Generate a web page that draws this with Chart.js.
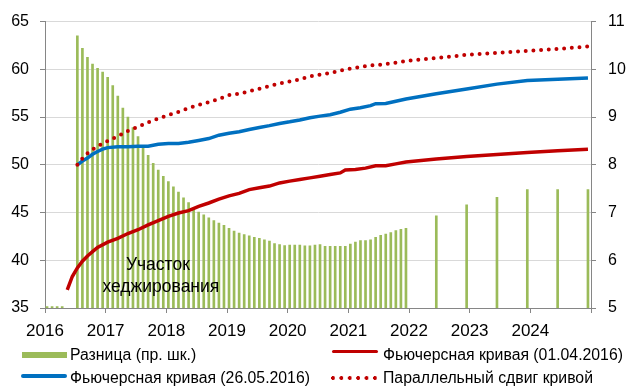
<!DOCTYPE html>
<html lang="ru">
<head>
<meta charset="utf-8">
<title>Фьючерсная кривая</title>
<script src="https://cdn.jsdelivr.net/npm/chart.js@4.4.1/dist/chart.umd.min.js"></script>
<style>
  html, body { margin: 0; padding: 0; background: #fff; }
  #wrap { position: relative; width: 629px; height: 387px; font-family: 'Liberation Sans', Arial, sans-serif; }
  #chart { position: absolute; left: 0; top: 0; }
  .lg { position: absolute; font-size: 15.8px; line-height: 18px; color: #000; white-space: nowrap; }
  .sw { position: absolute; }
</style>
</head>
<body>
<div id="wrap">
  <canvas id="chart" width="629" height="387"></canvas>

  <!-- легенда -->
  <div class="sw" style="left:22px;top:352px;width:45px;height:6px;background:#9bbb59"></div>
  <div class="lg" style="left:70px;top:346px">Разница (пр. шк.)</div>
  <div class="sw" style="left:332px;top:349.5px;width:46px;height:3.5px;background:#c00000;border-radius:2px"></div>
  <div class="lg" style="left:383px;top:346px">Фьючерсная кривая (01.04.2016)</div>
  <div class="sw" style="left:21px;top:374px;width:46px;height:3.5px;background:#0070c0;border-radius:2px"></div>
  <div class="lg" style="left:70px;top:369px">Фьючерсная кривая (26.05.2016)</div>
  <div class="sw" style="left:331px;top:375.7px;width:46px;height:4px;background:radial-gradient(circle at 2px 2px, #c00000 1.7px, transparent 2.2px);background-size:8.4px 4px;background-repeat:repeat-x"></div>
  <div class="lg" style="left:383px;top:369px">Параллельный сдвиг кривой</div>
</div>

<script>
// разница между кривыми, правая шкала
const diffMonths = ['2016-01', '2016-02', '2016-03', '2016-04']
  .concat(monthRange('2016-07', '2021-12'))
  .concat(['2022-06', '2022-12', '2023-06', '2023-12', '2024-06', '2024-12']);
const diffValues = [
  5.03, 5.03, 5.03, 5.03,
  10.70, 10.44, 10.25, 10.11, 10.02, 9.94, 9.83, 9.66, 9.44, 9.19, 9.00, 8.78,
  8.59, 8.40, 8.20, 8.03, 7.89, 7.76, 7.65, 7.54, 7.43, 7.31, 7.21, 7.10,
  7.01, 6.95, 6.89, 6.83, 6.78, 6.73, 6.67, 6.61, 6.57, 6.54, 6.51, 6.48,
  6.46, 6.43, 6.40, 6.35, 6.33, 6.31, 6.32, 6.32, 6.32, 6.30, 6.30, 6.32,
  6.33, 6.29, 6.29, 6.29, 6.29, 6.29, 6.34, 6.38, 6.41, 6.41, 6.43, 6.48,
  6.52, 6.55, 6.58, 6.62, 6.65, 6.67,
  6.93, 7.16, 7.32, 7.48, 7.48, 7.48
];

// фьючерсная кривая на 01.04.2016
const aprMonths = ['2016-05', '2016-06', '2016-07', '2016-08', '2016-09', '2016-10', '2016-11',
  '2017-01', '2017-03', '2017-05', '2017-07', '2017-09', '2017-11',
  '2018-01', '2018-03', '2018-05', '2018-07', '2018-09', '2018-11',
  '2019-01', '2019-03', '2019-05', '2019-07', '2019-09', '2019-11',
  '2020-01', '2020-03', '2020-05', '2020-07', '2020-09', '2020-11', '2020-12',
  '2021-02', '2021-04', '2021-06', '2021-08', '2021-10', '2021-12',
  '2022-06', '2022-12', '2023-06', '2023-12', '2024-06', '2024-12'];
const aprValues = [36.9, 38.3, 39.2, 39.9, 40.45, 40.9, 41.35,
  41.9, 42.3, 42.8, 43.2, 43.7, 44.15,
  44.6, 44.95, 45.2, 45.65, 46.0, 46.4,
  46.75, 47.0, 47.4, 47.6, 47.77, 48.1,
  48.29, 48.46, 48.63, 48.8, 48.98, 49.15, 49.45,
  49.5, 49.65, 49.9, 49.9, 50.1, 50.3,
  50.6, 50.87, 51.08, 51.28, 51.48, 51.64];

// фьючерсная кривая на 26.05.2016
const mayMonths = ['2016-07', '2016-08', '2016-09', '2016-10', '2016-11', '2016-12', '2017-01',
  '2017-03', '2017-05', '2017-07', '2017-09', '2017-11',
  '2018-01', '2018-03', '2018-05', '2018-07', '2018-09', '2018-11',
  '2019-01', '2019-03', '2019-05', '2019-07', '2019-09', '2019-11',
  '2020-01', '2020-03', '2020-05', '2020-07', '2020-09', '2020-11',
  '2021-01', '2021-03', '2021-05', '2021-06', '2021-08', '2021-10', '2021-12',
  '2022-06', '2022-12', '2023-06', '2023-12', '2024-06', '2024-12'];
const mayValues = [50.0, 50.4, 50.7, 51.1, 51.4, 51.65, 51.8,
  51.9, 51.9, 51.95, 51.95, 52.16,
  52.23, 52.23, 52.37, 52.55, 52.75, 53.1,
  53.3, 53.47, 53.7, 53.9, 54.1, 54.33,
  54.5, 54.7, 54.93, 55.1, 55.25, 55.5,
  55.83, 55.97, 56.2, 56.4, 56.42, 56.65, 56.9,
  57.45, 57.95, 58.45, 58.82, 58.95, 59.1];

// параллельный сдвиг кривой от 01.04.2016
const shiftMonths = ['2016-07', '2016-08', '2016-09', '2016-10', '2016-11',
  '2017-01', '2017-03', '2017-05', '2017-07', '2017-09', '2017-11',
  '2018-01', '2018-03', '2018-05', '2018-07', '2018-09', '2018-11',
  '2019-01', '2019-03', '2019-05', '2019-07', '2019-09', '2019-11',
  '2020-01', '2020-03', '2020-05', '2020-07', '2020-09', '2020-11',
  '2021-01', '2021-03', '2021-05', '2021-07', '2021-09', '2021-11', '2021-12',
  '2022-06', '2022-12', '2023-06', '2023-12', '2024-06', '2024-12'];
const shiftValues = [50.0, 50.65, 51.2, 51.6, 51.95,
  52.5, 53.0, 53.55, 53.98, 54.45, 54.85,
  55.2, 55.55, 55.95, 56.27, 56.55, 56.9,
  57.3, 57.45, 57.7, 57.97, 58.25, 58.5,
  58.74, 58.95, 59.25, 59.45, 59.6, 59.87,
  60.08, 60.23, 60.42, 60.47, 60.62, 60.77, 60.88,
  61.18, 61.52, 61.72, 61.93, 62.13, 62.4];

const yearTicks = [2016, 2017, 2018, 2019, 2020, 2021, 2022, 2023, 2024];
const hedgeText = ['Участок', 'хеджирования'];

function monthRange(from, to) {
  const out = [];
  let [y, m] = from.split('-').map(Number);
  const [ty, tm] = to.split('-').map(Number);
  while (y < ty || (y === ty && m <= tm)) {
    out.push(y + '-' + String(m).padStart(2, '0'));
    m++;
    if (m > 12) { m = 1; y++; }
  }
  return out;
}

// месяц -> дробный год на оси
function monthX(s) {
  const [y, m] = s.split('-').map(Number);
  return y + (m - 1 + 0.4) / 12;
}

function toPoints(months, values) {
  return months.map((mo, i) => ({ x: monthX(mo), y: values[i] }));
}

Chart.defaults.font.family = "'Liberation Sans', Arial, sans-serif";
Chart.defaults.color = '#000';

const hedgeLabel = {
  id: 'hedgeLabel',
  afterDatasetsDraw(chart) {
    const c = chart.ctx;
    const x = chart.scales.x, y = chart.scales.y;
    c.save();
    c.font = "17.5px 'Liberation Sans', Arial, sans-serif";
    c.fillStyle = '#000';
    c.textAlign = 'center';
    c.textBaseline = 'alphabetic';
    c.fillText(hedgeText[0], x.getPixelForValue(2017.86), y.getPixelForValue(39.0));
    c.fillText(hedgeText[1], x.getPixelForValue(2017.91), y.getPixelForValue(36.66));
    c.restore();
  }
};

const ctx = document.getElementById('chart').getContext('2d');

new Chart(ctx, {
  type: 'bar',
  data: {
    datasets: [
      {
        type: 'line',
        label: 'Параллельный сдвиг кривой',
        data: toPoints(shiftMonths, shiftValues),
        yAxisID: 'y',
        borderColor: '#c00000',
        borderWidth: 4,
        borderDash: [0, 7.7],
        borderCapStyle: 'round',
        pointRadius: 0,
        tension: 0,
        order: 0
      },
      {
        type: 'line',
        label: 'Фьючерсная кривая (26.05.2016)',
        data: toPoints(mayMonths, mayValues),
        yAxisID: 'y',
        borderColor: '#0070c0',
        borderWidth: 3.5,
        pointRadius: 0,
        tension: 0,
        order: 1
      },
      {
        type: 'line',
        label: 'Фьючерсная кривая (01.04.2016)',
        data: toPoints(aprMonths, aprValues),
        yAxisID: 'y',
        borderColor: '#c00000',
        borderWidth: 3.5,
        pointRadius: 0,
        tension: 0,
        order: 2
      },
      {
        type: 'bar',
        label: 'Разница (пр. шк.)',
        data: toPoints(diffMonths, diffValues),
        yAxisID: 'y1',
        backgroundColor: '#9bbb59',
        barThickness: 2,
        order: 3
      }
    ]
  },
  options: {
    responsive: false,
    animation: false,
    layout: { padding: { top: 19, bottom: 49, left: 0, right: 0 } },
    plugins: {
      legend: { display: false },
      tooltip: { enabled: false }
    },
    scales: {
      x: {
        type: 'linear',
        min: 2016,
        max: 2025,
        offset: false,
        afterBuildTicks: s => { s.ticks = yearTicks.concat([2025]).map(v => ({ value: v })); },
        ticks: {
          autoSkip: false,
          maxRotation: 0,
          padding: 8,
          font: { size: 17 },
          callback: v => yearTicks.includes(v) ? String(v) : ''
        },
        grid: { drawOnChartArea: false, offset: false, tickLength: 5, tickColor: '#868686' },
        border: { color: '#868686' },
        afterFit: s => { s.height = 30; }
      },
      y: {
        position: 'left',
        min: 35,
        max: 65,
        ticks: { stepSize: 5, padding: 11, font: { size: 16 } },
        grid: { color: '#d9d9d9', tickLength: 5, tickColor: '#868686' },
        border: { color: '#868686' },
        afterFit: s => { s.width = 45; }
      },
      y1: {
        position: 'right',
        min: 5,
        max: 11,
        ticks: { stepSize: 1, padding: 12, font: { size: 16 } },
        grid: { drawOnChartArea: false, tickLength: 5, tickColor: '#868686' },
        border: { color: '#868686' },
        afterFit: s => { s.width = 38; }
      }
    }
  },
  plugins: [hedgeLabel]
});
</script>
</body>
</html>
